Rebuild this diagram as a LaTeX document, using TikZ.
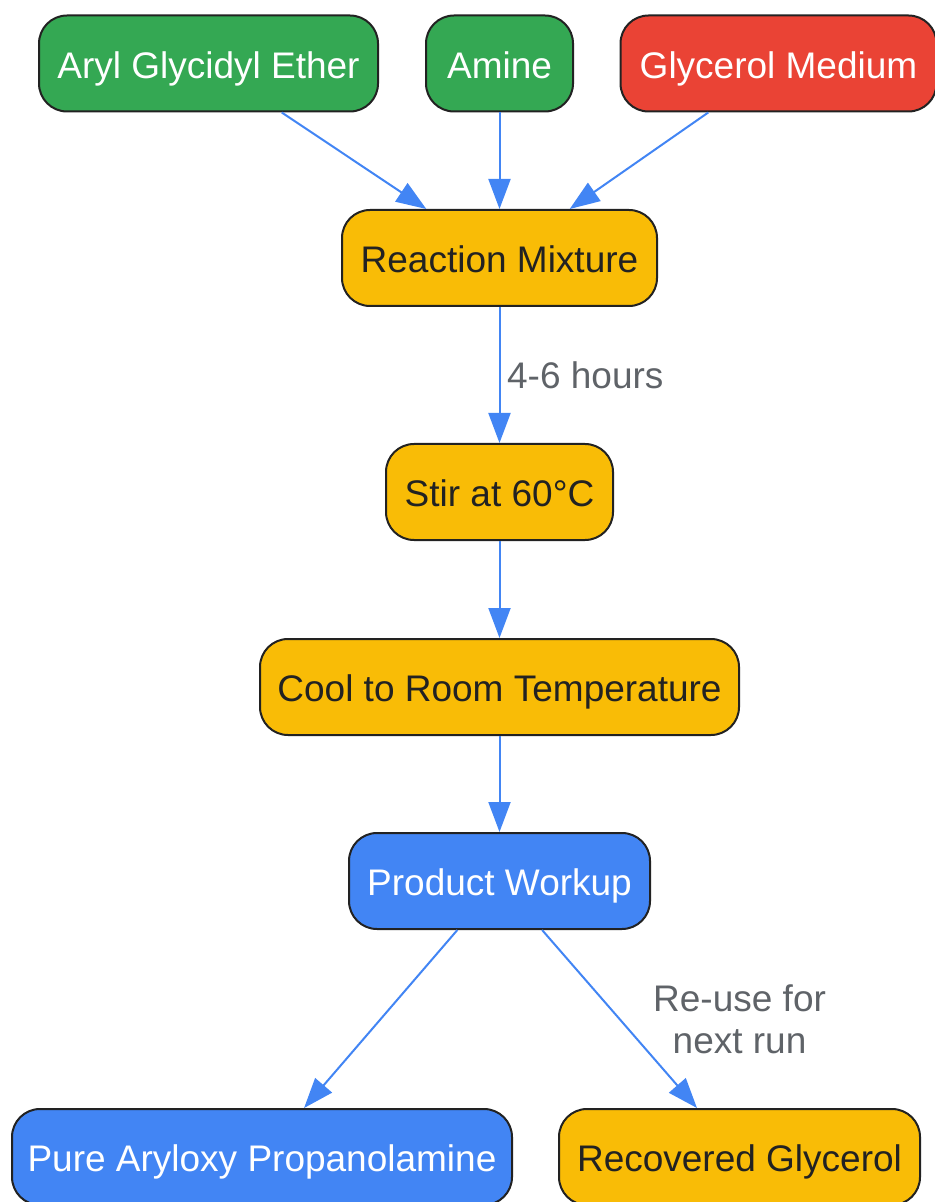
\documentclass[tikz,border=0pt]{standalone}
\usepackage{fontspec}
\setmainfont{Liberation Sans}
\usetikzlibrary{positioning, arrows.meta}

\definecolor{gGreen}{HTML}{34A853}
\definecolor{gRed}{HTML}{EA4335}
\definecolor{gYellow}{HTML}{F9BC06}
\definecolor{gBlue}{HTML}{4285F4}
\definecolor{gLabel}{HTML}{5F6368}
\definecolor{gEdge}{HTML}{222222}

\begin{document}
\begin{tikzpicture}[x=0.5pt, y=-0.5pt, font=\fontsize{18.5}{21}\selectfont,
		b/.style={rectangle, rounded corners=14pt, draw=gEdge, line width=1pt, minimum height=48pt, inner sep=0pt, text height=14.8pt, text depth=0pt},
		green/.style={fill=gGreen, text=white},
		red/.style={fill=gRed, text=white},
		yellow/.style={fill=gYellow, text=gEdge},
		blue/.style={fill=gBlue, text=white},
		f/.style={-{Triangle[length=15pt, width=11pt]}, color=gBlue, line width=1pt},
		l/.style={text=gLabel, align=center}]
		\useasboundingbox (0,0) rectangle (934,1202);

		\node[b, green, minimum width=169.5pt] (ether) at (208.5,63.5) {Aryl Glycidyl Ether};
		\node[b, green, minimum width=73.5pt] (amine) at (499.5,63.5) {Amine};
		\node[b, red, minimum width=158pt] (glycerol) at (778.5,63.5) {Glycerol Medium};
		\node[b, yellow, minimum width=157.5pt] (mix) at (499.5,258) {Reaction Mixture};
		\node[b, yellow, minimum width=113.5pt] (stir) at (499.5,492) {Stir at 60°C};
		\node[b, yellow, minimum width=239.5pt] (cool) at (499.5,687) {Cool to Room Temperature};
		\node[b, blue, minimum width=150.5pt] (workup) at (499.5,881) {Product Workup};
		\node[b, blue, minimum width=250pt] (pure) at (262,1157) {Pure Aryloxy Propanolamine};
		\node[b, yellow, minimum width=180.5pt] (recovered) at (739.5,1157) {Recovered Glycerol};


		\path[f] (ether) edge (mix);
		\path[f] (amine) edge (mix);
		\path[f] (glycerol) edge (mix);
		\path[f] (mix) edge node[l, right] {4-6 hours} (stir);
		\path[f] (stir) edge (cool);
		\path[f] (cool) edge (workup);
		\path[f] (workup) edge (pure);
		\path[f] (workup) edge node[l, right=13pt] {Re-use for\\next run} (recovered);
	\end{tikzpicture}
\end{document}
